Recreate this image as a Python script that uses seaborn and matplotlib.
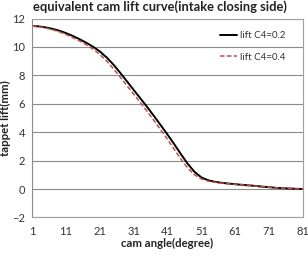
import matplotlib
matplotlib.use("Agg")
import matplotlib.pyplot as plt
import seaborn as sns
import pandas as pd

angle = [1, 3, 5, 7, 9, 11, 13, 15, 17, 19, 21, 23, 25, 27, 29, 31, 33, 35, 37, 39,
         41, 43, 45, 47, 49, 51, 53, 55, 57, 59, 61, 63, 65, 67, 69, 71, 73, 75, 77, 79, 81]
lift_c4_02 = [11.48, 11.45, 11.38, 11.28, 11.15, 10.98, 10.78, 10.55, 10.30, 10.02,
              9.69, 9.27, 8.77, 8.19, 7.59, 6.98, 6.38, 5.77, 5.14, 4.49,
              3.83, 3.15, 2.44, 1.76, 1.20, 0.82, 0.62, 0.51, 0.44, 0.39,
              0.34, 0.30, 0.26, 0.22, 0.17, 0.13, 0.09, 0.06, 0.04, 0.02, 0.00]
lift_c4_04 = [11.48, 11.43, 11.34, 11.22, 11.07, 10.88, 10.67, 10.43, 10.16, 9.85,
              9.48, 9.02, 8.48, 7.89, 7.28, 6.68, 6.08, 5.46, 4.82, 4.16,
              3.49, 2.79, 2.09, 1.46, 1.00, 0.71, 0.56, 0.48, 0.42, 0.37,
              0.33, 0.29, 0.25, 0.21, 0.17, 0.13, 0.09, 0.06, 0.04, 0.02, 0.00]
xticks = [1, 11, 21, 31, 41, 51, 61, 71, 81]
yticks = [-2, 0, 2, 4, 6, 8, 10, 12]

sns.set_theme(style="white")
plt.rcParams['font.family'] = ['Lato', 'DejaVu Sans']

df1 = pd.DataFrame({"angle": angle, "lift": lift_c4_02})
df2 = pd.DataFrame({"angle": angle, "lift": lift_c4_04})

fig = plt.figure(figsize=(3.08, 2.58), dpi=100)
ax = fig.add_axes([0.104, 0.157, 0.880, 0.771])

sns.lineplot(data=df1, x="angle", y="lift", ax=ax, color="black", linewidth=1.4,
             label="lift C4=0.2")
sns.lineplot(data=df2, x="angle", y="lift", ax=ax, color="#c0504d", linewidth=1.1,
             linestyle=(0, (3, 1.5)), label="lift C4=0.4")

ax.set_xlim(1, 81)
ax.set_ylim(-2, 12)
ax.set_xticks(xticks)
ax.set_yticks(yticks)
ax.yaxis.grid(True, color="#8c8c8c", linewidth=0.8)
ax.xaxis.grid(False)
ax.tick_params(axis="both", labelsize=8, colors="#333333", length=3, width=0.8,
               color="#8c8c8c", pad=2)
ax.tick_params(axis="x", length=0, pad=6)
for s in ax.spines.values():
    s.set_color("#a0a0a0")
    s.set_linewidth(0.8)
ax.spines["left"].set_color("#8c8c8c")

ax.set_xlabel("cam angle(degree)", fontsize=8.2, fontweight="bold", labelpad=1, color="#222222")
ax.set_ylabel("tappet lift(mm)", fontsize=8.2, fontweight="bold", labelpad=1, color="#222222")
fig.suptitle("equivalent cam lift curve(intake closing side)", fontsize=9.3,
             fontweight="bold", y=0.998, x=0.52, color="#222222")

leg = ax.legend(loc="upper left", bbox_to_anchor=(0.675, 0.96), frameon=False,
                fontsize=7, handlelength=1.8, handletextpad=0.3, labelspacing=1.25,
                borderpad=0)
for t in leg.get_texts():
    t.set_color("#333333")

fig.savefig("out.png", dpi=100)
